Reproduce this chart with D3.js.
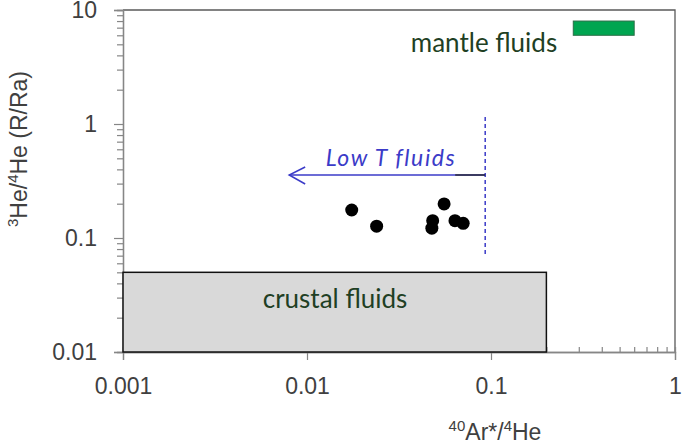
<!DOCTYPE html>
<html><head><meta charset="utf-8">
<script src="https://cdn.jsdelivr.net/npm/d3@7"></script>
<style>body{margin:0;background:#fff}svg{display:block}</style>
</head><body>
<svg id="c" width="685" height="445"></svg>
<script>
// data
const xTicks = [0.001, 0.01, 0.1, 1];
const yTicks = [0.01, 0.1, 1, 10];
const xTickLabels = ["0.001", "0.01", "0.1", "1"];
const yTickLabels = ["0.01", "0.1", "1", "10"];
const sampleX = [0.0175, 0.0239, 0.0556, 0.0482, 0.0477, 0.0637, 0.0706];
const sampleY = [0.176, 0.127, 0.199, 0.142, 0.122, 0.142, 0.1345];
const crustalBox = {x0: 0.001, x1: 0.2, y0: 0.01, y1: 0.05, label: "crustal fluids"};
const mantleBox = {x0: 0.28, x1: 0.6, y0: 6, y1: 8, label: "mantle fluids"};
const lowT = {xLine: 0.093, yTop: 1.15, yBottom: 0.071, arrowFrom: 0.093, arrowTo: 0.008, arrowY: 0.357, label: "Low T fluids"};

const svg = d3.select("#c");
const font = "Lato, 'Open Sans', sans-serif";
const afont = "'Liberation Sans', Arial, sans-serif";
const x = d3.scaleLog().domain([0.001, 1]).range([123, 675]);
const y = d3.scaleLog().domain([0.01, 10]).range([352, 10]);

const minor = (dom) => {
  const out = [];
  for (let e = Math.log10(dom[0]); e < Math.log10(dom[1]); e++)
    for (let k = 2; k <= 9; k++) out.push(k * Math.pow(10, e));
  return out;
};

// frame (top & right)
svg.append("path").attr("d", `M${x(0.001)},${y(10)}H${x(1)}V${y(0.01)}`)
  .attr("fill", "none").attr("stroke", "#595959").attr("stroke-width", 1.3);

// x minor ticks (inside)
const gxm = svg.append("g").attr("transform", `translate(0,${y(0.01)})`)
  .call(d3.axisTop(x).tickValues(minor([0.001, 1])).tickSize(5).tickFormat(""));
// x major
const gx = svg.append("g").attr("transform", `translate(0,${y(0.01)})`)
  .call(d3.axisBottom(x).tickValues(xTicks).tickSize(8).tickPadding(18)
    .tickFormat((d, i) => xTickLabels[i]));
// y minor
const gym = svg.append("g").attr("transform", `translate(${x(0.001)},0)`)
  .call(d3.axisLeft(y).tickValues(minor([0.01, 10])).tickSize(6).tickFormat(""));
const gy = svg.append("g").attr("transform", `translate(${x(0.001)},0)`)
  .call(d3.axisLeft(y).tickValues(yTicks).tickSize(9).tickPadding(17)
    .tickFormat((d, i) => yTickLabels[i]));
[gxm, gx, gym, gy].forEach(g => {
  g.select(".domain").attr("stroke", "#868686").attr("stroke-width", 1.3);
  g.selectAll(".tick line").attr("stroke", "#868686").attr("stroke-width", 1.2);
  g.selectAll("text").attr("fill", "#404040").style("font-family", afont).style("font-size", "23px");
});

// crustal box
svg.append("rect")
  .attr("x", x(crustalBox.x0)).attr("y", y(crustalBox.y1))
  .attr("width", x(crustalBox.x1) - x(crustalBox.x0))
  .attr("height", y(crustalBox.y0) - y(crustalBox.y1))
  .attr("fill", "#d9d9d9").attr("stroke", "#111").attr("stroke-width", 1.5);
svg.append("text").attr("x", 335).attr("y", 308).attr("text-anchor", "middle")
  .attr("fill", "#1f3f24").style("font-family", font).style("font-size", "26px")
  .text(crustalBox.label);

// mantle box
svg.append("rect")
  .attr("x", x(mantleBox.x0)).attr("y", y(mantleBox.y1))
  .attr("width", x(mantleBox.x1) - x(mantleBox.x0))
  .attr("height", y(mantleBox.y0) - y(mantleBox.y1))
  .attr("fill", "#00a550").attr("stroke", "#2b6e47").attr("stroke-width", 1);
svg.append("text").attr("x", 484).attr("y", 52).attr("text-anchor", "middle")
  .attr("fill", "#1f3f24").style("font-family", font).style("font-size", "26px")
  .text(mantleBox.label);

// Low T dashed line & arrow
const blue = "#3b3bc8";
svg.append("line")
  .attr("x1", x(lowT.xLine)).attr("x2", x(lowT.xLine))
  .attr("y1", y(lowT.yTop)).attr("y2", y(lowT.yBottom))
  .attr("stroke", blue).attr("stroke-width", 1.5).attr("stroke-dasharray", "4,3");
const ay = y(lowT.arrowY), ax = x(lowT.arrowTo);
svg.append("line").attr("x1", x(lowT.arrowFrom)).attr("x2", ax)
  .attr("y1", ay).attr("y2", ay).attr("stroke", blue).attr("stroke-width", 1.5);
svg.append("line").attr("x1", x(lowT.arrowFrom)).attr("x2", x(lowT.arrowFrom) - 30)
  .attr("y1", ay).attr("y2", ay).attr("stroke", "#222").attr("stroke-width", 1.3);
svg.append("path").attr("d", `M${ax + 16},${ay - 8}L${ax},${ay}L${ax + 16},${ay + 9}`)
  .attr("fill", "none").attr("stroke", blue).attr("stroke-width", 1.5);
svg.append("text").attr("x", 391).attr("y", 166).attr("text-anchor", "middle")
  .attr("fill", blue).style("font-family", font).style("font-size", "23px")
  .style("letter-spacing", "1.6px")
  .style("font-style", "italic").text(lowT.label);

// samples
svg.append("g").selectAll("circle").data(sampleX).join("circle")
  .attr("cx", d => x(d)).attr("cy", (d, i) => y(sampleY[i])).attr("r", 6.5)
  .attr("fill", "#000");

// axis titles
const xt = svg.append("text").attr("x", 495).attr("y", 440).attr("text-anchor", "middle")
  .attr("fill", "#404040").style("font-family", afont).style("font-size", "23px");
xt.append("tspan").attr("font-size", "15px").attr("dy", "-9").text("40");
xt.append("tspan").attr("dy", "9").text("Ar*/");
xt.append("tspan").attr("font-size", "15px").attr("dy", "-9").text("4");
xt.append("tspan").attr("dy", "9").text("He");

const yt = svg.append("text").attr("transform", "translate(27,149) rotate(-90)")
  .attr("text-anchor", "middle").attr("fill", "#404040")
  .style("font-family", afont).style("font-size", "23px");
yt.append("tspan").attr("font-size", "15px").attr("dy", "-9").text("3");
yt.append("tspan").attr("dy", "9").text("He/");
yt.append("tspan").attr("font-size", "15px").attr("dy", "-9").text("4");
yt.append("tspan").attr("dy", "9").text("He (R/Ra)");
</script>
</body></html>
